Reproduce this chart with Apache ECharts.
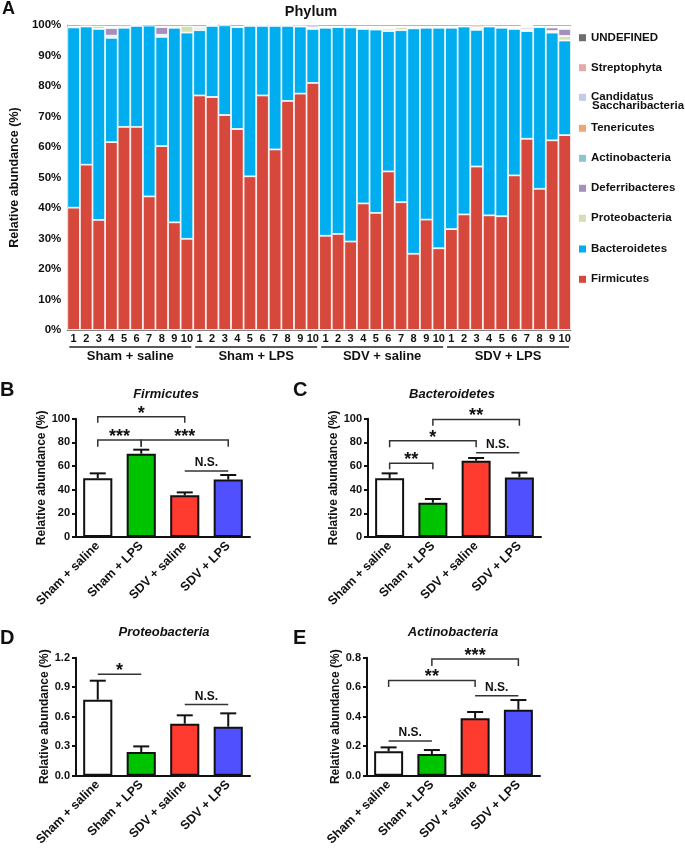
<!DOCTYPE html>
<html><head><meta charset="utf-8">
<script src="https://cdn.jsdelivr.net/npm/echarts@6/dist/echarts.min.js"></script>
<style>html,body{margin:0;padding:0;background:#fff}#c{width:685px;height:850px}</style>
</head><body><div id="c"></div>
<script>
// ---------- DATA ----------
const groupNames = ['Sham + saline', 'Sham + LPS', 'SDV + saline', 'SDV + LPS'];
const sampleTicks = ['1','2','3','4','5','6','7','8','9','10'];
const phylumNames = ['Firmicutes','Bacteroidetes','Proteobacteria','Deferribacteres','Actinobacteria','Tenericutes','Candidatus Saccharibacteria','Streptophyta','UNDEFINED'];
const firmicutes = [40.1,54.2,36.1,61.6,66.6,66.6,43.8,60.3,35.3,29.9, 76.9,76.4,70.5,65.9,50.4,76.9,59.2,75.1,77.5,81.0, 30.9,31.5,29.0,41.5,38.4,52.0,41.9,25.0,36.2,26.8, 33.1,37.9,53.6,37.6,37.3,50.7,62.7,46.3,62.2,63.9];
const bacteroidetes = [59.1,45.3,62.6,34.2,32.5,33.1,56.0,35.8,63.8,67.6, 21.4,23.3,29.4,33.4,49.3,22.8,40.5,24.6,22.0,17.7, 68.2,67.8,70.2,57.2,60.1,46.0,56.4,73.9,62.9,72.3, 66.0,61.6,44.8,61.9,61.8,48.0,35.3,53.0,35.3,31.0];
const proteobacteria = [0.3,0.2,1.0,0.7,0.6,0.2,0,0.7,0.5,2.2, 0.8,0.2,0,0.3,0.2,0.2,0.2,0.2,0.3,0.5, 0.3,0.3,0.4,0.3,0.6,0.8,1.0,0.3,0.3,0.3, 0.3,0.2,0.4,0.2,0.4,0.5,0.6,0.3,0.5,1.5];
const deferribacteres = [0,0,0,2.5,0,0,0,2.5,0,0, 0.5,0,0,0,0,0,0,0,0,0.6, 0,0,0,0,0,0,0,0,0,0, 0,0,0,0,0,0,0.6,0,1.2,2.3];
const actinobacteria = [0,0,0,0,0,0,0,0,0,0, 0,0,0,0,0,0,0,0,0,0, 0,0,0,0.4,0.3,0.2,0.2,0,0,0, 0,0,0.4,0,0,0.2,0.3,0,0.2,0.4];
const tenericutes = [0,0,0,0,0,0,0,0,0,0, 0,0,0,0,0,0,0,0,0,0, 0,0,0,0,0,0.2,0,0.4,0,0, 0,0,0.6,0,0,0,0,0,0,0];
const saccharibacteria = [0,0,0,0,0,0,0,0,0,0, 0,0,0,0,0,0,0,0,0,0, 0,0,0,0,0,0.3,0,0,0,0, 0,0,0,0,0,0,0.2,0,0,0];
const streptophyta = [0,0,0,0,0,0,0,0,0,0, 0,0,0,0,0,0,0,0,0,0, 0,0,0,0,0,0,0,0,0,0, 0,0,0,0,0,0,0.2,0,0,0];
const undefinedPhyla = [0,0,0,0,0,0,0,0,0,0, 0,0,0,0,0,0,0,0,0,0, 0,0,0,0,0,0,0,0,0,0, 0,0,0,0,0,0,0,0,0,0];
const yTicksTop = [0,10,20,30,40,50,60,70,80,90,100];

const treatments = ['Sham + saline', 'Sham + LPS', 'SDV + saline', 'SDV + LPS'];
const firmMean = [49.6, 70.4, 35.2, 48.5];
const firmSem = [4.2, 3.4, 2.5, 3.9];
const bactMean = [49.6, 29.0, 64.5, 50.4];
const bactSem = [4.2, 3.1, 2.3, 4.0];
const proteoMean = [0.773, 0.241, 0.529, 0.498];
const proteoSem = [0.193, 0.057, 0.085, 0.136];
const actinoMean = [0.165, 0.147, 0.389, 0.447];
const actinoSem = [0.027, 0.027, 0.043, 0.066];
// significance brackets: [from, to, lineY, tickBottomY (-1 = none)]
const firmSig = [[0,2,101.7,96.6],[0,1,82,76.3],[1,3,82,76.3],[2,3,55.8,-1]];
const firmSigLabels = ['*','***','***','N.S.'];
const bactSig = [[1,3,99.4,94.1],[0,2,81.4,75.8],[0,1,62.3,57.2],[2,3,71.3,-1]];
const bactSigLabels = ['**','*','**','N.S.'];
const proteoSig = [[0,1,1.031,-1],[2,3,0.725,-1]];
const proteoSigLabels = ['*','N.S.'];
const actinoSig = [[1,3,0.791,0.743],[0,2,0.646,0.601],[2,3,0.542,-1],[0,1,0.235,-1]];
const actinoSigLabels = ['***','**','N.S.','N.S.'];

// ---------- STYLE ----------
const FONT = "'Liberation Sans', Arial, Helvetica, sans-serif";
const phylumColors = {
  'Firmicutes':'#d5483b','Bacteroidetes':'#00adee','Proteobacteria':'#d4e0b3','Deferribacteres':'#a48fbd',
  'Actinobacteria':'#8cc5d2','Tenericutes':'#eea878','Candidatus Saccharibacteria':'#c3cce6',
  'Streptophyta':'#e4aaaa','UNDEFINED':'#6d6d6d'
};
const treatColors = ['#ffffff','#00c300','#ff3b2f','#5050ff'];
const phylumData = [firmicutes, bacteroidetes, proteobacteria, deferribacteres, actinobacteria, tenericutes, saccharibacteria, streptophyta, undefinedPhyla];

const sampleIds = [];
groupNames.forEach((g, gi) => sampleTicks.forEach(t => sampleIds.push(gi + '|' + t)));

const legendOrder = ['UNDEFINED','Streptophyta','Candidatus Saccharibacteria','Tenericutes','Actinobacteria','Deferribacteres','Proteobacteria','Bacteroidetes','Firmicutes'];
const legendCenters = [37.7, 67.7, 97.3, 128.3, 158.3, 188.3, 218.3, 249, 279.3];

const chart = echarts.init(document.getElementById('c'));

const grids = [
  {left:62, top:25, width:509, height:305},
  {left:76, top:418.7, width:174, height:118.3},
  {left:368, top:418.7, width:173, height:118.3},
  {left:76, top:657.7, width:174, height:118},
  {left:367, top:657.7, width:173, height:118}
];

const xAxes = [
  {gridIndex:0, type:'category', data:sampleIds, boundaryGap:true,
   axisLine:{lineStyle:{color:'#7a7a7a', width:1}}, axisTick:{show:false},
   axisLabel:{interval:0, margin:3, formatter:v => v.split('|')[1], fontFamily:FONT, fontWeight:'bold', fontSize:11, color:'#111'}}
];
const lowerX = gi => ({gridIndex:gi, type:'category', data:treatments,
  axisLine:{lineStyle:{color:'#111', width:2}},
  axisTick:{alignWithLabel:true, length:5, lineStyle:{color:'#111', width:2}},
  axisLabel:{interval:0, rotate:45, margin:7, fontFamily:FONT, fontWeight:'bold', fontSize:12.5, color:'#111'}});
for (let i=1;i<=4;i++) xAxes.push(lowerX(i));
// top frame line of panel A (index 5)
xAxes.push({gridIndex:0, type:'category', data:sampleIds, position:'top',
   axisLine:{lineStyle:{color:'#b5b5b5', width:1}}, axisTick:{show:false}, axisLabel:{show:false}});

const yAxes = [
  {gridIndex:0, type:'value', min:yTicksTop[0], max:yTicksTop[yTicksTop.length-1], interval:yTicksTop[1]-yTicksTop[0],
   axisLine:{show:true, lineStyle:{color:'#b5b5b5', width:1}}, axisTick:{show:false}, splitLine:{show:false},
   axisLabel:{formatter:'{value}%', margin:6, fontFamily:FONT, fontWeight:'bold', fontSize:11.5, color:'#111'},
   name:'Relative abundance (%)', nameLocation:'middle', nameGap:36,
   nameTextStyle:{fontFamily:FONT, fontWeight:'bold', fontSize:12.5, color:'#111'}}
];
const lowerY = (gi, max, interval, dec) => ({gridIndex:gi, type:'value', min:0, max:max, interval:interval,
  axisLine:{show:true, lineStyle:{color:'#111', width:2}},
  axisTick:{show:true, length:4, lineStyle:{color:'#111', width:2}}, splitLine:{show:false},
  axisLabel:{margin:6, formatter:v => v.toFixed(dec), fontFamily:FONT, fontWeight:'bold', fontSize:11, color:'#111'},
  name:'Relative abundance (%)', nameLocation:'middle', nameGap:23,
  nameTextStyle:{fontFamily:FONT, fontWeight:'bold', fontSize:12, color:'#111'}});
yAxes.push(lowerY(1,100,20,0), lowerY(2,100,20,0), lowerY(3,1.2,0.3,1), lowerY(4,0.8,0.2,1));

const series = [];
phylumNames.forEach((name, k) => {
  series.push({
    name, type:'bar', stack:'phylum', xAxisIndex:0, yAxisIndex:0, barWidth:'100%',
    data: phylumData[k].map(v => v > 0 ? v : '-'),
    itemStyle:{color:phylumColors[name], borderColor:'#ffffff', borderWidth:0.8},
    emphasis:{disabled:true}
  });
});
// group lines & labels under top panel
series.push({
  type:'custom', xAxisIndex:0, yAxisIndex:0, clip:false, silent:true, z:5,
  data: groupNames.map((g, i) => [i*10, i*10+9]),
  renderItem: (params, api) => {
    const s = api.coord([api.value(0), 0]);
    const e = api.coord([api.value(1), 0]);
    const bw = api.size([1, 0])[0];
    const x1 = s[0] - bw/2 + 2, x2 = e[0] + bw/2 - 2, y = s[1] + 17;
    return {type:'group', children:[
      {type:'line', shape:{x1, y1:y, x2, y2:y}, style:{stroke:'#222', lineWidth:1.3}},
      {type:'text', x:(x1+x2)/2, y:y+9.5, style:{text:groupNames[params.dataIndex], align:'center', verticalAlign:'middle',
        font:'bold 13px ' + FONT, fill:'#111'}}
    ]};
  }
});

function addBarPanel(gi, means, sems, sig, sigLabels) {
  series.push({
    type:'bar', xAxisIndex:gi, yAxisIndex:gi, barWidth:'67%',
    data: means.map((m, i) => ({value:m, itemStyle:{color:treatColors[i]}})),
    itemStyle:{borderColor:'#111', borderWidth:2}, emphasis:{disabled:true}
  });
  series.push({
    type:'custom', xAxisIndex:gi, yAxisIndex:gi, clip:false, silent:true, z:4,
    data: means.map((m, i) => [i, m, sems[i]]),
    renderItem: (params, api) => {
      const x = api.value(0), m = api.value(1), e = api.value(2);
      const p0 = api.coord([x, m]), p1 = api.coord([x, m + e]);
      const cap = 8;
      return {type:'group', children:[
        {type:'line', shape:{x1:p0[0], y1:p0[1], x2:p1[0], y2:p1[1]}, style:{stroke:'#111', lineWidth:2}},
        {type:'line', shape:{x1:p1[0]-cap, y1:p1[1], x2:p1[0]+cap, y2:p1[1]}, style:{stroke:'#111', lineWidth:2}}
      ]};
    }
  });
  series.push({
    type:'custom', xAxisIndex:gi, yAxisIndex:gi, clip:false, silent:true, z:6,
    data: sig,
    renderItem: (params, api) => {
      const a = api.value(0), b = api.value(1), y = api.value(2), t = api.value(3);
      const pa = api.coord([a, y]), pb = api.coord([b, y]);
      const pts = [];
      let tb = null;
      if (t >= 0) { tb = api.coord([a, t])[1]; pts.push([pa[0], tb]); }
      pts.push(pa, pb);
      if (t >= 0) pts.push([pb[0], tb]);
      const lab = sigLabels[params.dataIndex];
      const star = lab.indexOf('*') >= 0;
      return {type:'group', children:[
        {type:'polyline', shape:{points:pts}, style:{stroke:'#333', lineWidth:1.5, fill:null}},
        {type:'text', x:(pa[0]+pb[0])/2, y: star ? pa[1] + 6 : pa[1] - 2,
         style:{text:lab, align:'center', verticalAlign:'bottom', font:'bold ' + (star ? 18 : 12) + 'px ' + FONT, fill:'#111'}}
      ]};
    }
  });
}
addBarPanel(1, firmMean, firmSem, firmSig, firmSigLabels);
addBarPanel(2, bactMean, bactSem, bactSig, bactSigLabels);
addBarPanel(3, proteoMean, proteoSem, proteoSig, proteoSigLabels);
addBarPanel(4, actinoMean, actinoSem, actinoSig, actinoSigLabels);

const legends = legendOrder.map((name, i) => ({
  data:[name], left:579, top:legendCenters[i] - 7, padding:0, selectedMode:false,
  icon:'rect', itemWidth:7, itemHeight:7,
  itemStyle:{borderWidth:0},
  formatter: n => n === 'Candidatus Saccharibacteria' ? 'Candidatus' : n,
  textStyle:{fontFamily:FONT, fontWeight:'bold', fontSize:11.5, color:'#111', lineHeight:14}
}));

const txt = (text, x, y, font, align) => ({type:'text', x, y, style:{text, font, fill:'#111', align:align||'left', verticalAlign:'middle'}});
const graphics = [
  txt('A', 2, 9, 'bold 18px ' + FONT),
  txt('Phylum', 311, 12, 'bold 14.5px ' + FONT, 'center'),
  txt('Saccharibacteria', 592, 105.5, 'bold 11.5px ' + FONT),
  txt('B', 0, 390, 'bold 20px ' + FONT),
  txt('C', 293, 390, 'bold 20px ' + FONT),
  txt('D', 0, 638, 'bold 20px ' + FONT),
  txt('E', 293, 638, 'bold 20px ' + FONT),
  txt('Firmicutes', 166, 394, 'italic bold 13px ' + FONT, 'center'),
  txt('Bacteroidetes', 452, 394, 'italic bold 13px ' + FONT, 'center'),
  txt('Proteobacteria', 164, 632, 'italic bold 13px ' + FONT, 'center'),
  txt('Actinobacteria', 453, 632, 'italic bold 13px ' + FONT, 'center')
];

chart.setOption({
  animation:false,
  backgroundColor:'#ffffff',
  textStyle:{fontFamily:FONT},
  grid:grids, xAxis:xAxes, yAxis:yAxes, series, legend:legends, graphic:graphics
});
</script></body></html>
